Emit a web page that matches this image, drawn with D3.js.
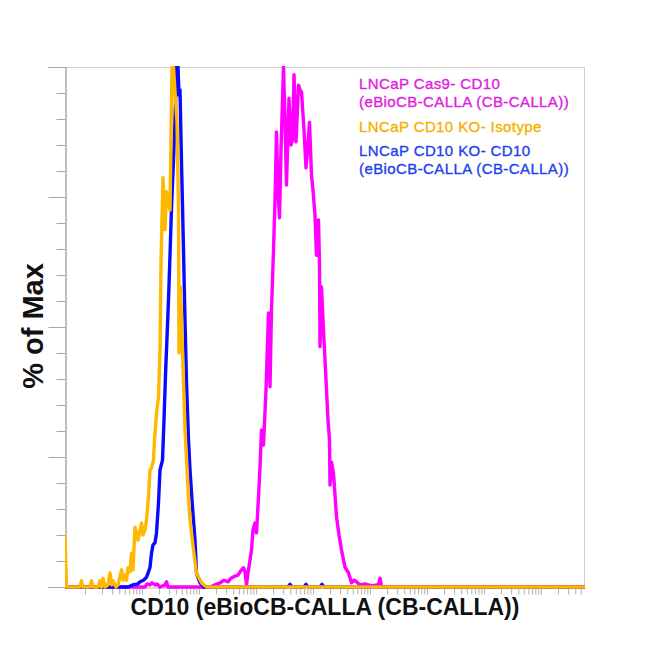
<!DOCTYPE html>
<html>
<head>
<meta charset="utf-8">
<script src="https://cdn.jsdelivr.net/npm/d3@7"></script>
<style>
  html, body { margin: 0; padding: 0; background: #fff; }
  svg { display: block; font-family: Arial, "Liberation Sans", sans-serif; }
</style>
</head>
<body>
<svg id="chart" width="650" height="650"></svg>
<script>
// ---------------- data (channel on a 0-1040 display scale, % of max) ----------------
const seriesNames = [
  ["LNCaP Cas9- CD10", "(eBioCB-CALLA (CB-CALLA))"],
  ["LNCaP CD10 KO- Isotype"],
  ["LNCaP CD10 KO- CD10", "(eBioCB-CALLA (CB-CALLA))"]
];

const magentaCh = [0,150,160,164,170,174,180,184,190,200,203,206,290,300,310,318,326,332,340,346,353,357,360,363,366,370,373,376,380,383,387,390,393,397,402,407,410,413,417,420,423,426,429,432,437,440,443,448,452,455,458,462,464,467,470,473,478,482,485,489,493,496,500,503,507,509,510,513,516,520,523,526,529,530,533,537,543,548,553,560,567,573,578,583,590,600,607,616,623,627,630,633,636,1040];
const magentaPct = [0,0,0,0.6,0.4,0.8,0.4,0.6,0,0.4,1.0,0,0,0.4,0.8,1.3,1.0,1.7,2.1,2.3,3.3,3.7,2.9,0.4,2.7,5.2,7.1,11.0,12.3,10.4,17.3,23.1,30.2,27.3,37.9,52.7,38.5,53.3,64.8,74.4,87.5,76.3,71.0,84.0,100,89.8,77.3,94.0,85.0,86.0,98.5,85.6,89.8,96.5,95.6,95.2,87.9,80.6,84.0,89.4,79.2,76.3,71.5,63.8,70.6,61.9,46.2,57.7,51.3,43.7,37.9,32.1,28.3,19.6,24.0,21.9,13.5,10.0,7.1,3.8,2.7,0.8,1.3,1.0,0.4,0.6,0.4,0.2,0.4,0.4,1.7,0.2,0,0];

const blueCh = [0,110,126,136,146,150,157,163,167,170,173,176,180,183,187,190,195,198,201,203,207,210,213,217,220,223,226,228,230,233,237,240,243,247,250,254,260,263,270,278,446,450,454,478,482,486,510,514,518,1040];
const bluePct = [0,0,0,0.4,0.6,1.0,1.3,1.9,2.9,3.8,6.5,8.1,8.5,10.4,16.2,22.5,24.4,32.1,40.8,45.6,55.2,63.8,72.9,82.1,89.4,100,100,94.6,95.6,81.7,64.8,51.3,39.2,28.3,22.5,16.7,9.0,2.7,0.8,0,0,0.5,0,0,0.5,0,0,0.5,0,0];

const orangeCh = [0,3,20,30,33,36,50,53,56,66,70,73,76,80,86,90,94,96,102,106,113,116,120,123,126,130,133,136,140,146,153,156,160,163,167,170,173,177,179,183,187,190,192,196,200,203,207,210,214,217,221,224,227,228,231,237,240,247,250,257,263,273,283,1040];
const orangePct = [10.0,0,0,0,1.2,0,0,1.2,0,0,1.2,0,1.7,0,0.4,2.7,0.4,1.2,0,0.4,3.3,1.3,2.3,1.3,3.7,2.9,6.5,3.3,11.5,9.0,12.3,10.0,11.0,12.9,17.3,22.5,22.9,24.4,28.3,33.5,36.5,45.6,62.3,78.7,68.7,76.0,73.5,72.5,100,100,93.7,89.4,72.9,45.0,57.7,39.2,30.2,17.3,12.9,7.1,2.7,0.8,0,0];

const yTickValues = [0,5,10,15,20,25,30,35,40,45,50,55,60,65,70,75,80,85,90,95,100];
const yMajorTicks = [0,25,50,75,100];
const xDecades = [0,1,2,3,4,5,6,7,8];
const xMultipliers = [1,2,3,4,5,6,7,8,9];

const colors = { magenta: "#ff00ff", orange: "#ffb800", blue: "#0a0aff" };
const legendColors = ["#e020e0", "#f5b000", "#1e3ef0"];

// ---------------- layout ----------------
const L = 65, R = 585, T = 67, B = 587;
const svg = d3.select("#chart");

const x = d3.scaleLinear().domain([0, 1040]).range([L, R]);
const xLog = d3.scaleLog().domain([Math.pow(10, -0.35), Math.pow(10, 8.773)]).range([L, R]);
const y = d3.scaleLinear().domain([0, 100]).range([B, T]);

// frame
svg.append("line").attr("x1", L).attr("x2", R).attr("y1", T + 0.5).attr("y2", T + 0.5).attr("stroke", "#cfcfcf");
svg.append("line").attr("x1", R - 0.5).attr("x2", R - 0.5).attr("y1", T).attr("y2", B).attr("stroke", "#cfcfcf");

// y axis
const yMinor = svg.append("g").attr("transform", `translate(${L + 0.5},0)`)
  .call(d3.axisLeft(y).tickValues(yTickValues).tickSize(9).tickFormat(""));
const yMajor = svg.append("g").attr("transform", `translate(${L + 0.5},0)`)
  .call(d3.axisLeft(y).tickValues(yMajorTicks).tickSize(17).tickFormat(""));
[yMinor, yMajor].forEach(g => {
  g.select(".domain").attr("stroke", "#a8a8a8");
  g.selectAll(".tick line").attr("stroke", "#a8a8a8");
});

// x axis (log ticks)
const xTickVals = [];
xDecades.forEach(d => xMultipliers.forEach(m => {
  const v = m * Math.pow(10, d);
  if (v >= xLog.domain()[0] && v <= xLog.domain()[1]) xTickVals.push(v);
}));
const xAx = svg.append("g").attr("transform", `translate(0,${B + 0.5})`)
  .call(d3.axisBottom(xLog).tickValues(xTickVals).tickSize(7).tickFormat("").tickSizeOuter(0));
xAx.select(".domain").attr("stroke", "#b0b0b0");
xAx.selectAll(".tick line").attr("stroke", "#b0b0b0");

// clip
svg.append("clipPath").attr("id", "plotclip").append("rect")
  .attr("x", L).attr("y", T - 1).attr("width", R - L).attr("height", B - T + 3);

const line = d3.line().x(d => x(d[0])).y(d => y(d[1]));
const plot = svg.append("g").attr("clip-path", "url(#plotclip)");

const series = [
  { ch: magentaCh, pct: magentaPct, color: colors.magenta },
  { ch: blueCh, pct: bluePct, color: colors.blue },
  { ch: orangeCh, pct: orangePct, color: colors.orange }
];
series.forEach(s => {
  const pts = s.ch.map((c, i) => [c, s.pct[i]]);
  plot.append("path").datum(pts)
    .attr("d", line)
    .attr("fill", "none")
    .attr("stroke", s.color)
    .attr("stroke-width", 3.4)
    .attr("stroke-linejoin", "round");
});

// legend
const legendLines = [
  { text: seriesNames[0][0], color: legendColors[0], yb: 89 },
  { text: seriesNames[0][1], color: legendColors[0], yb: 107 },
  { text: seriesNames[1][0], color: legendColors[1], yb: 132 },
  { text: seriesNames[2][0], color: legendColors[2], yb: 156 },
  { text: seriesNames[2][1], color: legendColors[2], yb: 174 }
];
svg.append("g").selectAll("text").data(legendLines).join("text")
  .attr("x", 359)
  .attr("y", d => d.yb)
  .attr("fill", d => d.color)
  .attr("stroke", d => d.color)
  .attr("stroke-width", 0.35)
  .attr("font-size", 15)
  .attr("letter-spacing", 0.4)
  .text(d => d.text);

// axis titles
svg.append("text")
  .attr("x", 325).attr("y", 615)
  .attr("text-anchor", "middle")
  .attr("font-size", 23).attr("font-weight", "bold").attr("fill", "#111")
  .text("CD10 (eBioCB-CALLA (CB-CALLA))");

svg.append("text")
  .attr("transform", "translate(43,326) rotate(-90)")
  .attr("text-anchor", "middle")
  .attr("font-size", 29).attr("font-weight", "bold").attr("fill", "#111")
  .text("% of Max");
</script>
</body>
</html>
